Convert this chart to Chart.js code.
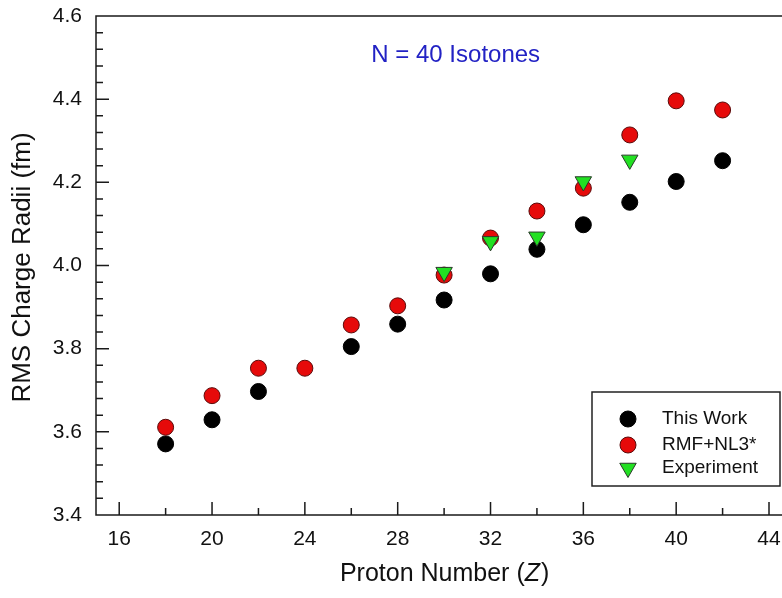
<!DOCTYPE html>
<html>
<head>
<meta charset="utf-8">
<script src="https://cdn.jsdelivr.net/npm/chart.js@4.4.1/dist/chart.umd.min.js"></script>
<style>
  html, body { margin: 0; padding: 0; background: #fff; }
  #wrap { width: 782px; height: 598px; }
</style>
</head>
<body>
<div id="wrap"><canvas id="radiiChart" width="782" height="598"></canvas></div>
<script>
// N = 40 isotones, rms charge radii (fm) vs proton number Z
const zThisWork = [18, 20, 22, 26, 28, 30, 32, 34, 36, 38, 40, 42]
const rThisWork = [3.571, 3.629, 3.697, 3.805, 3.859, 3.917, 3.980, 4.039, 4.098, 4.152, 4.202, 4.252]
const zRmf = [18, 20, 22, 24, 26, 28, 30, 32, 34, 36, 38, 40, 42]
const rRmf = [3.611, 3.687, 3.753, 3.753, 3.857, 3.903, 3.977, 4.066, 4.131, 4.186, 4.314, 4.396, 4.374]
const zExp = [30, 32, 34, 36, 38]
const rExp = [3.984, 4.058, 4.069, 4.202, 4.254]
const xTicks = [16, 20, 24, 28, 32, 36, 40, 44]
const yTicks = [3.4, 3.6, 3.8, 4.0, 4.2, 4.4, 4.6]
const seriesNames = ["This Work", "RMF+NL3*", "Experiment"]
const titleText = "N = 40 Isotones"

const FONT = '"Liberation Sans", Arial, sans-serif'
const toPoints = (xs, ys) => xs.map((x, i) => ({ x: x, y: ys[i] }))

function marker(ctx, ds, x, y) {
  ctx.fillStyle = ds.backgroundColor
  ctx.strokeStyle = ds.borderColor
  ctx.lineWidth = 1
  ctx.beginPath()
  if (ds.pointStyle === "triangle") {
    const r = ds.pointRadius
    ctx.moveTo(x, y + r)
    ctx.lineTo(x - r * 0.866, y - r / 2)
    ctx.lineTo(x + r * 0.866, y - r / 2)
    ctx.closePath()
  } else {
    ctx.arc(x, y, ds.pointRadius, 0, Math.PI * 2)
  }
  ctx.fill()
  ctx.stroke()
}

// axes with inward ticks, drawn from the chart's own scales
const framePlugin = {
  id: "frame",
  beforeDatasetsDraw(chart) {
    const ctx = chart.ctx, a = chart.chartArea
    const xs = chart.scales.x, ys = chart.scales.y
    ctx.save()
    ctx.strokeStyle = "#1a1a1a"
    ctx.lineWidth = 1.5
    ctx.beginPath()
    ctx.moveTo(a.right, a.top)
    ctx.lineTo(a.left, a.top)
    ctx.lineTo(a.left, a.bottom)
    ctx.lineTo(a.right, a.bottom)
    for (let z = 16; z <= 44; z += 2) {
      const px = xs.getPixelForValue(z)
      const len = z % 4 === 0 ? 13 : 7
      ctx.moveTo(px, a.bottom)
      ctx.lineTo(px, a.bottom - len)
    }
    for (let k = 1; k < 30; k++) {
      const py = ys.getPixelForValue(3.4 + k * 0.04)
      const len = k % 5 === 0 ? 13 : 7
      ctx.moveTo(a.left, py)
      ctx.lineTo(a.left + len, py)
    }
    ctx.stroke()
    ctx.restore()
  },
  afterDatasetsDraw(chart) {
    const ctx = chart.ctx, a = chart.chartArea
    const xs = chart.scales.x, ys = chart.scales.y
    ctx.save()

    // title inside the plot
    ctx.fillStyle = "#2222c4"
    ctx.font = "24px " + FONT
    ctx.textAlign = "center"
    ctx.textBaseline = "middle"
    ctx.fillText(titleText, xs.getPixelForValue(30.5), ys.getPixelForValue(4.506))

    // x axis title with italic Z
    ctx.fillStyle = "#111"
    const p1 = "Proton Number (", p2 = "Z", p3 = ")"
    ctx.font = "25px " + FONT
    const w1 = ctx.measureText(p1).width, w3 = ctx.measureText(p3).width
    ctx.font = "italic 25px " + FONT
    const w2 = ctx.measureText(p2).width
    let tx = xs.getPixelForValue(30) - (w1 + w2 + w3) / 2
    const ty = a.bottom + 59
    ctx.textAlign = "left"
    ctx.font = "25px " + FONT
    ctx.fillText(p1, tx, ty)
    ctx.font = "italic 25px " + FONT
    ctx.fillText(p2, tx + w1, ty)
    ctx.font = "25px " + FONT
    ctx.fillText(p3, tx + w1 + w2 + 1, ty)

    // y axis title
    ctx.save()
    ctx.translate(23, (a.top + a.bottom) / 2 + 2)
    ctx.rotate(-Math.PI / 2)
    ctx.textAlign = "center"
    ctx.font = "26px " + FONT
    ctx.fillText("RMS Charge Radii (fm)", 0, 0)
    ctx.restore()

    // legend box
    const left = a.right - 190, right = a.right - 2
    const top = a.bottom - 123, bottom = a.bottom - 29
    ctx.fillStyle = "#fff"
    ctx.fillRect(left, top, right - left, bottom - top)
    ctx.strokeStyle = "#222"
    ctx.lineWidth = 1.5
    ctx.strokeRect(left, top, right - left, bottom - top)
    const rows = [27, 53, 76]
    const order = [2, 1, 0] // dataset index for each legend row
    ctx.font = "19px " + FONT
    order.forEach((di, i) => {
      const ds = chart.data.datasets[di]
      marker(ctx, ds, left + 36, top + rows[i])
      ctx.fillStyle = "#111"
      ctx.textAlign = "left"
      ctx.textBaseline = "middle"
      ctx.fillText(ds.label, left + 70, top + rows[i])
    })
    ctx.restore()
  }
}

const ctx = document.getElementById("radiiChart").getContext("2d")
const radiiChart = new Chart(ctx, {
  type: "scatter",
  data: {
    datasets: [
      {
        label: seriesNames[2],
        data: toPoints(zExp, rExp),
        pointStyle: "triangle",
        rotation: 180,
        pointRadius: 9.5,
        backgroundColor: "#22e022",
        borderColor: "#2a3a2a",
        borderWidth: 1,
        order: 0
      },
      {
        label: seriesNames[1],
        data: toPoints(zRmf, rRmf),
        pointStyle: "circle",
        pointRadius: 8,
        backgroundColor: "#e60a0a",
        borderColor: "#5a0a0a",
        borderWidth: 1,
        order: 1
      },
      {
        label: seriesNames[0],
        data: toPoints(zThisWork, rThisWork),
        pointStyle: "circle",
        pointRadius: 8,
        backgroundColor: "#000",
        borderColor: "#000",
        borderWidth: 1,
        order: 2
      }
    ]
  },
  options: {
    responsive: false,
    animation: false,
    devicePixelRatio: 1,
    layout: { autoPadding: false, padding: { top: 16, right: 0, left: 0, bottom: 0 } },
    plugins: { legend: { display: false }, tooltip: { enabled: false } },
    scales: {
      x: {
        type: "linear",
        min: 15,
        max: 44.56,
        grid: { display: false, drawTicks: false },
        border: { display: false },
        afterBuildTicks: s => { s.ticks = xTicks.map(v => ({ value: v })) },
        afterFit: s => { s.height = 83; s.paddingLeft = 0; s.paddingRight = 0 },
        ticks: {
          padding: 12,
          autoSkip: false,
          maxRotation: 0,
          color: "#111",
          font: { family: FONT, size: 21 },
          callback: v => String(v)
        }
      },
      y: {
        type: "linear",
        min: 3.4,
        max: 4.6,
        grid: { display: false, drawTicks: false },
        border: { display: false },
        afterBuildTicks: s => { s.ticks = yTicks.map(v => ({ value: v })) },
        afterFit: s => { s.width = 96; s.paddingTop = 0; s.paddingBottom = 0 },
        ticks: {
          padding: 14,
          autoSkip: false,
          color: "#111",
          font: { family: FONT, size: 21 },
          callback: v => v.toFixed(1)
        }
      }
    }
  },
  plugins: [framePlugin]
})
</script>
</body>
</html>
